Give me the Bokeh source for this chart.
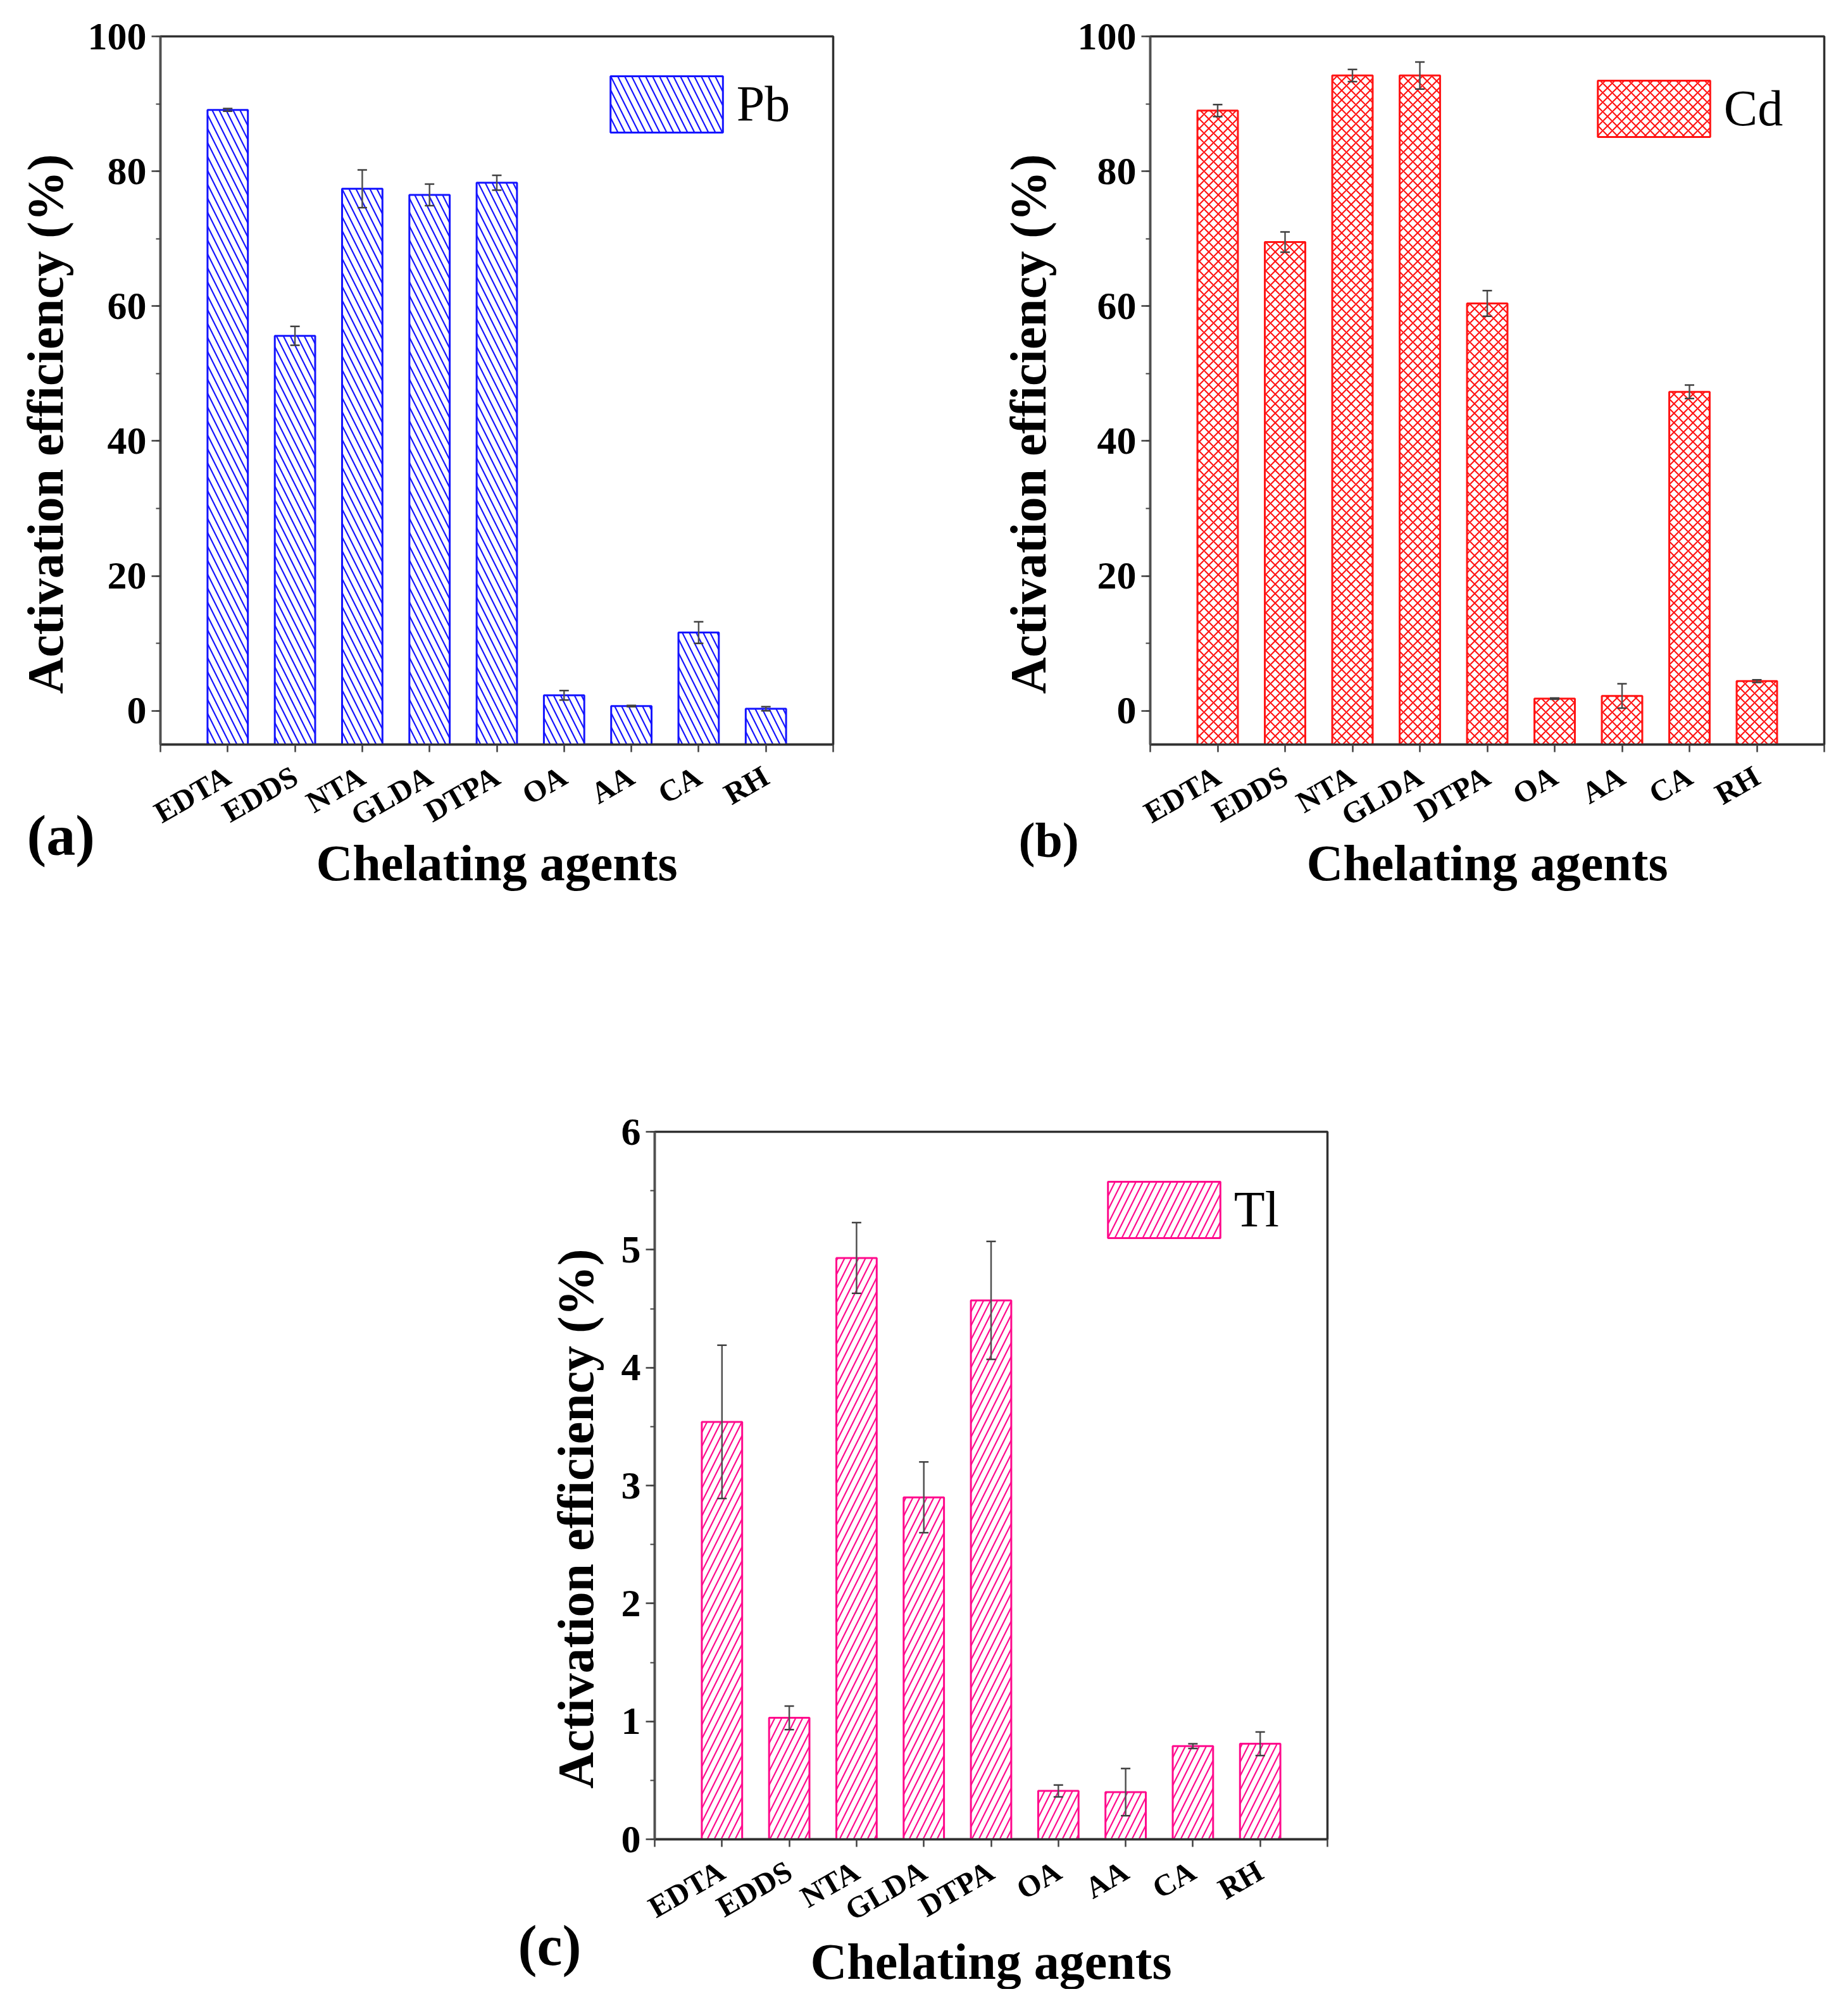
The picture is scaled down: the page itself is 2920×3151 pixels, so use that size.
import math
from bokeh.plotting import figure
from bokeh.models import (ColumnDataSource, Range1d, FixedTicker, SingleIntervalTicker,
                          Whisker, TeeHead, Title)
from bokeh.layouts import column, row
from bokeh.embed import file_html
from bokeh.resources import INLINE

# ---------------- data ----------------
categories = ["EDTA", "EDDS", "NTA", "GLDA", "DTPA", "OA", "AA", "CA", "RH"]
positions = list(range(1, len(categories) + 1))

pb_values = [89.1, 55.6, 77.4, 76.5, 78.3, 2.3, 0.7, 11.6, 0.3]
pb_errors = [0.2, 1.4, 2.8, 1.6, 1.1, 0.7, 0.1, 1.6, 0.3]

cd_values = [89.0, 69.5, 94.2, 94.2, 60.4, 1.8, 2.2, 47.3, 4.4]
cd_errors = [0.9, 1.5, 0.9, 2.0, 1.9, 0.1, 1.8, 1.0, 0.2]

tl_values = [3.54, 1.03, 4.93, 2.90, 4.57, 0.41, 0.40, 0.79, 0.81]
tl_errors = [0.65, 0.10, 0.30, 0.30, 0.50, 0.05, 0.20, 0.02, 0.10]

x_title = "Chelating agents"
y_title = "Activation efficiency (%)"

FONT = "Liberation Serif"
LEG_W, LEG_H = 222, 111   # legend glyph box (drawn rect is 80% of it)


def make_panel(values, errors, color, hatch, hatch_scale, legend_name,
               y_min, y_max, y_step, fig_w, fig_h, b_left, b_top, f_w, f_h,
               leg_dx, leg_dy, panel_tag, tag_size, tag_standoff, tag_dx,
               ytitle_standoff, xtitle_standoff):
    b_right = fig_w - b_left - f_w
    b_bottom = fig_h - b_top - f_h
    p = figure(width=fig_w, height=fig_h, output_backend="svg", toolbar_location=None,
               x_range=Range1d(0, len(categories) + 1), y_range=Range1d(y_min, y_max),
               min_border_left=b_left, min_border_right=b_right,
               min_border_top=b_top, min_border_bottom=b_bottom,
               background_fill_color="white", border_fill_color="white")
    p.grid.visible = False
    p.outline_line_color = "#303030"
    p.outline_line_width = 3.5

    src = ColumnDataSource(dict(
        x=positions, top=values,
        bottom=[y_min] * len(values),
        upper=[v + e for v, e in zip(values, errors)],
        lower=[v - e for v, e in zip(values, errors)],
    ))
    p.vbar(x="x", top="top", bottom="bottom", width=0.6, source=src,
           fill_color="white", line_color=color, line_width=3,
           hatch_pattern=hatch, hatch_color=color, hatch_scale=hatch_scale,
           hatch_weight=2.2, legend_label=legend_name)

    wh = Whisker(base="x", upper="upper", lower="lower", source=src,
                 dimension="height", line_color="#505050", line_width=2.5,
                 level="annotation",
                 upper_head=TeeHead(size=15, line_color="#404040", line_width=2.5),
                 lower_head=TeeHead(size=15, line_color="#404040", line_width=2.5))
    p.add_layout(wh)

    # axes
    xa = p.xaxis[0]
    xa.ticker = FixedTicker(ticks=list(range(0, len(categories) + 2)))
    overrides = {0: "", len(categories) + 1: ""}
    for pos, c in zip(positions, categories):
        overrides[pos] = c
    xa.major_label_overrides = overrides
    xa.major_label_orientation = math.pi / 6
    xa.major_label_text_font = FONT
    xa.major_label_text_font_style = "bold"
    xa.major_label_text_font_size = "48px"
    xa.major_label_text_color = "black"
    xa.major_label_standoff = 34
    xa.major_tick_out = 12
    xa.major_tick_in = 0
    xa.minor_tick_line_color = None
    xa.axis_line_width = 3.5
    xa.axis_line_color = "#303030"
    xa.major_tick_line_width = 2.5
    xa.major_tick_line_color = "#404040"

    ya = p.yaxis[0]
    ya.ticker = SingleIntervalTicker(interval=y_step, num_minor_ticks=2)
    ya.major_label_text_font = FONT
    ya.major_label_text_font_style = "bold"
    ya.major_label_text_font_size = "62px"
    ya.major_label_text_color = "black"
    ya.major_label_standoff = 8
    ya.major_tick_out = 14
    ya.major_tick_in = 0
    ya.minor_tick_out = 7
    ya.minor_tick_in = 0
    ya.axis_line_width = 3.5
    ya.axis_line_color = "#505050"
    ya.major_tick_line_width = 2.5
    ya.minor_tick_line_width = 2
    ya.major_tick_line_color = "#404040"
    ya.minor_tick_line_color = "#404040"

    # legend: absolute location, offsets from the frame's bottom-left corner
    lg = p.legend[0]
    inset_x, inset_y = LEG_W * 0.1, LEG_H * 0.1
    lg.location = (leg_dx - inset_x, f_h - (leg_dy - inset_y) - LEG_H)
    lg.margin = 0
    lg.padding = 0
    lg.glyph_width = LEG_W
    lg.glyph_height = LEG_H
    lg.label_standoff = 0
    lg.label_text_font = FONT
    lg.label_text_font_size = "80px"
    lg.label_text_color = "black"
    lg.border_line_alpha = 0
    lg.background_fill_alpha = 0
    lg.spacing = 0

    # axis titles and panel tag as side-panel titles
    p.add_layout(Title(text=y_title, align="left", offset=80, vertical_align="middle",
                       standoff=ytitle_standoff, text_font=FONT, text_font_style="bold",
                       text_font_size="80px", text_color="black"), "left")
    p.add_layout(Title(text=panel_tag, align="left", offset=tag_dx, vertical_align="top",
                       standoff=tag_standoff, text_font=FONT, text_font_style="bold",
                       text_font_size=tag_size, text_color="black"), "below")
    p.add_layout(Title(text=x_title, align="center", vertical_align="top",
                       standoff=xtitle_standoff, text_font=FONT, text_font_style="bold",
                       text_font_size="80px", text_color="black"), "below")
    return p


pa = make_panel(pb_values, pb_errors, "#1414ff", "\\", 22, "Pb",
                -5, 100, 20, 1452, 1432, 253, 57, 1063, 1119,
                711, 63, "(a)", "92px", -144, -211, 38, -42)
pb = make_panel(cd_values, cd_errors, "#ff1414", "x", 15, "Cd",
                -5, 100, 20, 1452, 1432, 365, 57, 1065, 1120,
                707, 71, "(b)", "78px", -114, -208, 60, -42)
pc = make_panel(tl_values, tl_errors, "#ff0a8c", "/", 22, "Tl",
                0, 6, 1, 2904, 1711, 1034, 356, 1063, 1118,
                716, 79, "(c)", "90px", -91, -216, 47, -50)

layout = column(row(pa, pb), pc)
open("out.html", "w").write(file_html(layout, INLINE))
